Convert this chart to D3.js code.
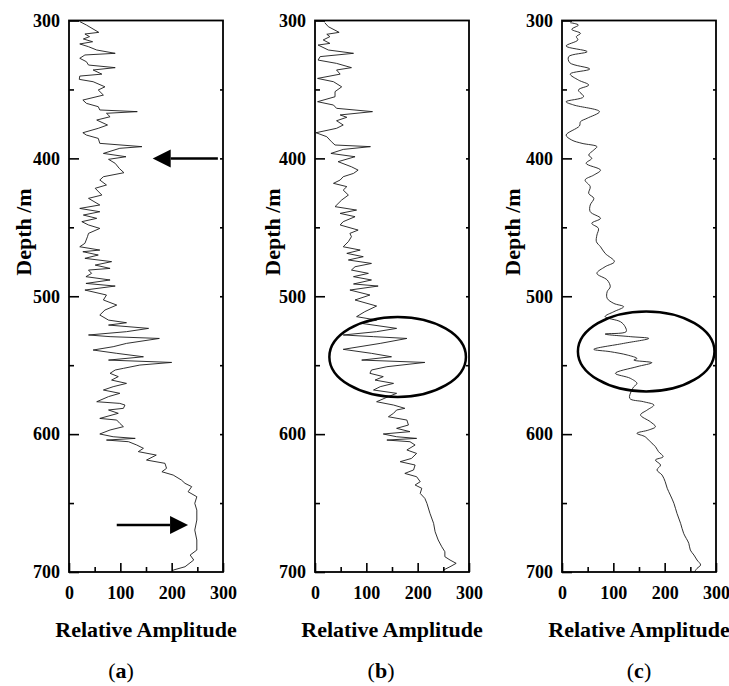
<!DOCTYPE html>
<html>
<head>
<meta charset="utf-8">
<script src="https://cdn.jsdelivr.net/npm/d3@7/dist/d3.min.js"></script>
<style>
	body { margin: 0; background: #fff; }
	svg { display: block; }
	.tick text { font-family: "Liberation Serif", "Times New Roman", serif; font-weight: bold; font-size: 18px; fill: #000; }
	.title { font-family: "Liberation Serif", "Times New Roman", serif; font-weight: bold; font-size: 22px; fill: #000; }
	.panel-label { font-family: "Liberation Serif", "Times New Roman", serif; font-size: 22px; fill: #000; }
</style>
</head>
<body>
<svg id="chart"></svg>
<script>
/* jshint esversion: 6 */

(function(){
	///////////////////////////////////////////////////////////////////
	//// Data /////////////////////////////////////////////////////////
	///////////////////////////////////////////////////////////////////
	const panelNames = ["a", "b", "c"];
	const xTicks = [0, 100, 200, 300];
	const yTicks = [300, 400, 500, 600, 700];

	// (a) raw trace
	const depthA = [300.8,303.3,308.6,309.8,311.7,313.4,315.4,317.0,319.0,321.4,323.8,325.0,327.4,329.9,332.3,334.2,335.9,338.9,340.3,342.7,344.4,348.1,350.4,354.1,357.7,360.1,362.5,364.9,366.1,367.3,369.8,372.2,375.8,378.2,381.4,383.1,385.5,389.1,391.5,392.7,396.4,398.8,400.7,403.6,407.3,410.4,413.3,
		415.7,419.3,421.7,426.6,429.0,433.8,436.3,438.7,441.1,443.5,445.9,448.3,450.8,454.4,456.8,461.6,464.1,466.5,467.7,470.1,472.5,474.9,477.4,479.8,481.0,483.4,485.8,488.2,490.7,492.6,495.5,499.1,502.7,506.4,510.0,513.6,517.3,519.2,520.9,523.3,525.7,528.1,529.3,530.6,534.2,536.6,539.0,541.4,543.9,546.3,548.0,549.9,552.3,
		553.5,555.9,558.3,560.8,563.2,565.6,568.0,570.4,572.8,576.5,577.7,578.9,581.3,582.5,584.9,588.6,589.8,592.2,594.6,597.0,599.9,601.9,603.1,604.3,605.5,607.9,610.3,612.7,615.2,618.8,621.2,624.8,627.3,629.7,633.3,635.7,638.1,641.8,645.4,650.2,655.1,662.3,669.6,676.8,684.1,687.7,691.3,696.2,698.6,700];
	const ampA = [21,34,58,31,40,28,46,21,38,54,90,31,21,34,38,90,47,64,21,20,47,70,57,67,27,34,57,60,133,73,80,54,75,57,27,34,57,60,142,99,67,111,77,90,98,107,67,
		60,73,51,64,38,60,21,60,28,54,25,38,60,38,36,31,21,60,27,57,31,83,51,80,38,44,33,80,33,90,31,73,67,93,70,60,77,112,77,155,112,38,80,176,112,86,47,93,145,77,200,138,106,
		90,80,96,83,112,86,67,99,77,54,99,109,106,77,96,60,93,99,106,80,60,86,129,73,116,132,145,135,170,151,187,190,181,203,219,226,239,232,249,245,249,249,245,249,249,236,243,226,203,200];

	// (b) filtered trace
	const depthB = [301.6,304.5,308.6,310.0,311.7,314.1,316.6,317.8,321.4,323.8,326.2,328.7,331.1,334.2,335.9,338.9,342.0,344.4,348.1,351.6,355.3,358.9,361.3,363.7,366.1,368.5,370.2,372.7,375.8,378.2,381.4,384.3,387.9,390.3,391.5,393.5,396.4,398.8,402.4,406.1,408.5,410.9,413.3,
		415.7,418.1,420.5,423.0,426.6,430.2,435.0,437.5,439.9,442.3,445.9,448.3,452.0,454.4,456.8,460.4,464.1,466.5,468.9,471.3,473.7,476.2,478.6,481.0,483.4,485.8,488.2,491.1,492.6,495.5,499.1,502.7,507.1,511.2,514.8,517.3,519.7,523.3,525.7,528.1,529.3,530.6,534.2,538.5,541.4,543.9,546.3,548.0,551.1,553.5,
		555.9,558.3,560.8,563.2,565.6,568.0,570.4,572.8,576.5,578.9,581.3,582.5,584.9,587.4,589.8,593.4,595.8,598.2,599.9,601.9,603.1,604.3,605.5,607.9,611.5,614.0,617.6,620.0,622.4,626.0,628.5,630.9,634.5,636.9,639.3,643.0,646.6,650.2,657.5,664.7,670.8,676.8,681.7,685.3,688.9,691.3,693.7,696.2,698.6,700];
	const ampB = [19,26,47,23,29,16,29,6,26,75,10,6,42,71,42,49,5,36,52,39,39,5,36,42,112,49,62,42,55,42,2,23,32,39,108,55,31,78,45,71,84,75,55,
		49,36,62,55,65,52,39,81,49,78,55,49,84,68,71,65,55,88,62,94,65,110,78,71,104,75,110,75,123,68,107,78,120,97,81,120,91,159,120,55,114,179,127,55,110,149,91,214,140,110,
		107,133,117,153,127,114,159,143,120,153,175,159,153,143,179,182,159,185,133,159,198,140,185,195,179,198,188,166,195,192,175,198,205,195,208,205,214,218,224,231,234,240,247,253,253,263,275,263,250,251];

	// (c) smoothed trace
	const depthC = [301.6,303.3,306.4,309.3,311.7,314.1,318.5,322.6,326.2,330.6,335.2,338.8,343.2,346.8,350.4,355.3,358.9,361.3,366.1,370.9,373.4,376.5,383.1,386.7,389.1,391.5,393.9,397.6,400.0,403.6,408.5,412.1,415.7,
		420.5,425.4,429.0,433.8,438.7,443.5,447.1,450.8,455.6,460.4,464.1,468.9,474.9,478.6,483.4,488.2,493.1,496.7,501.5,505.2,507.6,511.2,514.8,518.5,522.1,525.7,527.4,529.3,530.6,534.2,538.5,540.2,542.6,545.1,546.3,548.2,551.1,
		555.9,559.5,563.2,565.6,568.0,574.1,576.5,578.9,582.5,586.1,591.0,594.6,597.0,599.4,601.9,605.5,609.1,612.7,616.4,618.8,622.4,626.0,629.7,634.5,639.3,644.2,650.2,657.5,664.7,672.0,679.2,684.1,687.7,691.3,694.9,697.4,700];
	const ampC = [16,32,19,36,28,31,8,49,13,15,54,16,32,52,32,42,8,23,73,49,36,34,8,19,39,68,62,52,58,47,75,62,45,
		55,52,62,55,55,75,58,71,68,67,75,84,102,84,68,88,94,88,88,101,120,101,84,114,123,125,84,133,169,120,62,94,127,146,140,175,146,
		104,133,146,140,136,132,159,179,166,153,172,182,169,146,162,172,182,188,197,182,192,185,195,201,205,211,218,224,231,237,247,250,257,263,270,263,258];

	// annotations (data units)
	const arrowTail = [[290, 400], [93, 666]];
	const arrowTip = [[163, 400], [232, 666]];
	const ellipseCenter = [[161, 544], [164, 540]];
	const ellipseRadius = [[133, 29], [133, 29]];

	///////////////////////////////////////////////////////////////////
	//// Set Up ///////////////////////////////////////////////////////
	///////////////////////////////////////////////////////////////////
	const width = 729;
	const height = 686;
	const panelLeft = [69, 315, 562];
	const panelW = 154;
	const top = 20.5;
	const bottom = 572;
	const titleDx = [38, 35, 42];
	const labelX = [121, 381, 639];

	const svg = d3.select("#chart")
			.attr("width", width)
			.attr("height", height);

	const traces = [
		{depth: depthA, amp: ampA, curve: d3.curveLinear},
		{depth: depthB, amp: ampB, curve: d3.curveLinear},
		{depth: depthC, amp: ampC, curve: d3.curveCatmullRom.alpha(0.5)}
	];

	const y = d3.scaleLinear()
			.domain([300, 700])
			.range([top, bottom]);

	panelNames.forEach((name, i) => {
		const left = panelLeft[i];
		const x = d3.scaleLinear()
				.domain([0, 300])
				.range([left, left + panelW]);

		const g = svg.append("g").attr("class", "panel-" + name);

		// trace
		const tr = traces[i];
		const pts = tr.depth.map((d, k) => [tr.amp[k], d]);
		const line = d3.line()
				.x(d => x(d[0]))
				.y(d => y(d[1]))
				.curve(tr.curve);

		g.append("path")
				.attr("d", line(pts))
				.style("fill", "none")
				.style("stroke", "#1a1a1a")
				.style("stroke-width", 0.9);

		// axes, ticks inside
		const leftMinor = g.append("g")
				.attr("transform", `translate(${left},0)`)
				.call(d3.axisLeft(y).tickValues([350, 450, 550, 650]).tickSize(-5).tickFormat(""));
		const leftAxis = g.append("g")
				.attr("transform", `translate(${left},0)`)
				.call(d3.axisLeft(y).tickValues(yTicks).tickSize(-10).tickPadding(9).tickFormat(d3.format("d")));
		const rightAxis = g.append("g")
				.attr("transform", `translate(${left + panelW},0)`)
				.call(d3.axisRight(y).tickValues(d3.range(350, 700, 50)).tickSize(-3).tickFormat(""));
		const bottomMinor = g.append("g")
				.attr("transform", `translate(0,${bottom})`)
				.call(d3.axisBottom(x).tickValues([50, 150, 250]).tickSize(-5).tickFormat(""));
		const bottomAxis = g.append("g")
				.attr("transform", `translate(0,${bottom})`)
				.call(d3.axisBottom(x).tickValues(xTicks).tickSize(-9).tickPadding(14).tickFormat(d3.format("d")));

		[leftMinor, leftAxis, rightAxis, bottomMinor, bottomAxis].forEach(a => {
			a.select(".domain").remove();
			a.selectAll("line").style("stroke", "#000").style("stroke-width", 1.6);
		});

		g.append("rect")
				.attr("x", left)
				.attr("y", top)
				.attr("width", panelW)
				.attr("height", bottom - top)
				.style("fill", "none")
				.style("stroke", "#000")
				.style("stroke-width", 1.8);

		// titles
		g.append("text")
				.attr("class", "title")
				.attr("transform", `translate(${left - titleDx[i]},232) rotate(-90)`)
				.attr("text-anchor", "middle")
				.text("Depth /m");

		g.append("text")
				.attr("class", "title")
				.attr("x", left + panelW / 2)
				.attr("y", 637)
				.attr("text-anchor", "middle")
				.text("Relative Amplitude");

		const lab = g.append("text")
				.attr("class", "panel-label")
				.attr("x", labelX[i])
				.attr("y", 678)
				.attr("text-anchor", "middle");
		lab.append("tspan").text("(");
		lab.append("tspan").style("font-weight", "bold").text(name);
		lab.append("tspan").text(")");

		// annotations
		if (i === 0) {
			arrowTail.forEach((t, k) => {
				const tip = arrowTip[k];
				const dir = Math.sign(x(t[0]) - x(tip[0]));
				const tx = x(tip[0]), ty = y(tip[1]);
				const headLen = 18, headHalf = 9;
				g.append("line")
						.attr("x1", x(t[0]))
						.attr("y1", y(t[1]))
						.attr("x2", tx + dir * headLen)
						.attr("y2", ty)
						.style("stroke", "#000")
						.style("stroke-width", 2.5);
				g.append("path")
						.attr("d", `M${tx},${ty}L${tx + dir * headLen},${ty - headHalf}L${tx + dir * headLen},${ty + headHalf}Z`)
						.style("fill", "#000");
			});
		} else {
			const c = ellipseCenter[i - 1];
			const r = ellipseRadius[i - 1];
			g.append("ellipse")
					.attr("cx", x(c[0]))
					.attr("cy", y(c[1]))
					.attr("rx", x(r[0]) - x(0))
					.attr("ry", y(300 + r[1]) - y(300))
					.style("fill", "none")
					.style("stroke", "#000")
					.style("stroke-width", 2.5);
		}
	});
}());
</script>
</body>
</html>
